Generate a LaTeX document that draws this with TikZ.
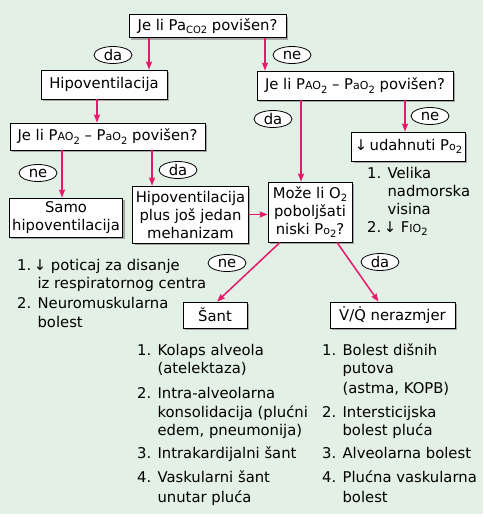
\documentclass[tikz,border=0pt]{standalone}
\usepackage{fontspec}
\setmainfont{DejaVu Sans}
\usetikzlibrary{arrows.meta,shapes.geometric,shadows}
\definecolor{bggreen}{HTML}{E3F0E5}
\definecolor{arrpink}{HTML}{E6196B}
\newcommand{\sm}[1]{{\fontsize{11}{11}\selectfont #1}}
\newcommand{\sub}[1]{\raisebox{-0.4ex}{\fontsize{10}{10}\selectfont #1}}
\newcommand{\ind}{\phantom{1. }}
\newcommand{\lst}[1]{\begin{tabular}[t]{@{}l@{}}#1\end{tabular}}
\tikzset{
  qbox/.style={draw,fill=white,line width=0.8pt,align=center,inner xsep=3pt,inner ysep=2pt,
    drop shadow={shadow xshift=2pt,shadow yshift=-2pt,fill=gray!70,opacity=1}},
  answer/.style={ellipse,draw,fill=white,line width=0.8pt,inner sep=0pt,
    minimum width=38pt,minimum height=17pt},
  arr/.style={-{Stealth[length=8pt,width=6pt,inset=1pt]},draw=arrpink,fill=arrpink,line width=1.5pt},
  listtxt/.style={anchor=base west,inner sep=0pt}
}

\begin{document}
\begin{tikzpicture}[x=1pt,y=-1pt,font=\fontsize{14.8}{18}\selectfont]
  \fill[white] (0,0) rectangle (483,517);
  \fill[bggreen] (0,0) rectangle (483,514);
  \useasboundingbox (0,0) rectangle (483,517);

  \node[qbox,minimum width=157pt,minimum height=23pt] (q1) at (207.5,26) {Je li Pa\sub{CO2} povišen?};
  \node[qbox,minimum width=126pt,minimum height=29pt] (hipo) at (104,84.5) {Hipoventilacija};
  \node[qbox,minimum width=196pt,minimum height=29pt] (q2r) at (355,85.5) {Je li P\sm{AO}\sub{2} -- P\sm{aO}\sub{2} povišen?};
  \node[qbox,minimum width=195pt,minimum height=27pt] (q2l) at (107.5,136.5) {Je li P\sm{AO}\sub{2} -- P\sm{aO}\sub{2} povišen?};
  \node[qbox,minimum width=113pt,minimum height=29pt] (udah) at (408.5,146.5) {↓\,udahnuti P\sm{o}\sub{2}};
  \node[qbox,minimum width=112pt,minimum height=39pt] (samo) at (66,217.5) {Samo\\hipoventilacija};
  \node[qbox,minimum width=115pt,minimum height=57pt] (plus) at (190.5,214.5) {Hipoventilacija\\plus još jedan\\mehanizam};
  \node[qbox,minimum width=84pt,minimum height=60pt] (moze) at (310,212) {Može li O\sub{2}\\poboljšati\\niski P\sm{o}\sub{2}?};
  \node[qbox,minimum width=64pt,minimum height=26pt] (sant) at (215,315) {Šant};
  \node[qbox,minimum width=125pt,minimum height=26pt] (vq) at (392.5,315) {\.{V}/\.{Q} nerazmjer};

  \draw[arr] ([xshift=-58.5pt]q1.south) -- ([xshift=-58.5pt]q1.south |- hipo.north);
  \draw[arr] ([xshift=57.5pt]q1.south) -- ([xshift=57.5pt]q1.south |- q2r.north);
  \draw[arr] ([xshift=-7pt]hipo.south) -- ([xshift=-7pt]hipo.south |- q2l.north);
  \draw[arr] ([xshift=-54pt]q2r.south) -- ([xshift=-54pt]q2r.south |- moze.north);
  \draw[arr] ([xshift=50pt]q2r.south) -- ([xshift=50pt]q2r.south |- udah.north);
  \draw[arr] ([xshift=-45.5pt]q2l.south) -- ([xshift=-45.5pt]q2l.south |- samo.north);
  \draw[arr] ([xshift=44.5pt]q2l.south) -- ([xshift=44.5pt]q2l.south |- plus.north);
  \draw[arr] (plus.east) -- (plus.east -| moze.west);
  \draw[arr] ([xshift=-30pt]moze.south) -- ([xshift=2pt]sant.north);
  \draw[arr] ([xshift=27pt]moze.south) -- ([xshift=-14pt]vq.north);

  \node[answer] (d1) at (113,55) {da};
  \node[answer] (n1) at (292,55) {ne};
  \node[answer] (d2) at (273,119) {da};
  \node[answer] (n2) at (430,116) {ne};
  \node[answer] (n3) at (38,173) {ne};
  \node[answer] (d3) at (178,170) {da};
  \node[answer] (n4) at (227,263) {ne};
  \node[answer] (d4) at (380,262) {da};

  \node[listtxt] (lhipo) at (17,270) {\lst{1.\,↓ poticaj za disanje\\\ind iz respiratornog centra\\[2pt]2. Neuromuskularna\\[1pt]\ind bolest}};
  \node[listtxt] (ludah) at (367,178) {\lst{1. Velika\\\ind nadmorska\\\ind visina\\2.\,↓ F\sm{IO}\sub{2}}};
  \node[listtxt] (lsant) at (137,355) {\lst{1. Kolaps alveola\\\ind (atelektaza)\\[7pt]2. Intra-alveolarna\\[1pt]\ind konsolidacija (plućni\\\ind edem, pneumonija)\\[5pt]3. Intrakardijalni šant\\[6pt]4. Vaskularni šant\\[2pt]\ind unutar pluća}};
  \node[listtxt] (lvq) at (322,355) {\lst{1. Bolest dišnih\\\ind putova\\[2pt]\ind (astma, KOPB)\\[6pt]2. Intersticijska\\\ind bolest pluća\\[5pt]3. Alveolarna bolest\\[6pt]4. Plućna vaskularna\\[2pt]\ind bolest}};
\end{tikzpicture}
\end{document}
